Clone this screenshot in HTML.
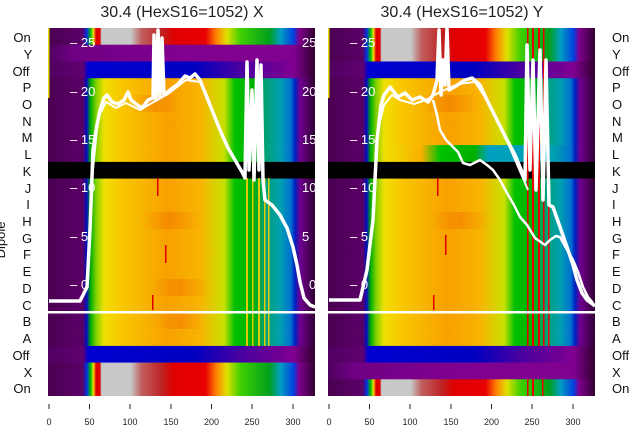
<!DOCTYPE html>
<html><head><meta charset="utf-8"><style>
html,body{margin:0;padding:0;background:#fff;}
svg{display:block;font-family:"Liberation Sans","DejaVu Sans",sans-serif;}
</style></head><body>
<svg width="640" height="440" viewBox="0 0 640 440" xmlns="http://www.w3.org/2000/svg">
<defs>
<linearGradient id="spec" x1="0" x2="1" y1="0" y2="0">
<stop offset="0" stop-color="#4a0050"/><stop offset="0.13" stop-color="#5a0068"/>
<stop offset="0.145" stop-color="#0010c0"/><stop offset="0.16" stop-color="#00b000"/>
<stop offset="0.18" stop-color="#80d000"/><stop offset="0.21" stop-color="#f0e000"/>
<stop offset="0.27" stop-color="#f8c800"/><stop offset="0.45" stop-color="#f8a000"/>
<stop offset="0.57" stop-color="#f8b400"/><stop offset="0.66" stop-color="#c8e000"/>
<stop offset="0.70" stop-color="#00c000"/><stop offset="0.77" stop-color="#00b000"/>
<stop offset="0.81" stop-color="#00a070"/><stop offset="0.87" stop-color="#00a0b0"/>
<stop offset="0.91" stop-color="#0070d0"/><stop offset="0.925" stop-color="#0020c0"/>
<stop offset="0.945" stop-color="#700090"/><stop offset="1" stop-color="#300030"/>
</linearGradient>
<linearGradient id="lrow" x1="0" x2="1" y1="0" y2="0">
<stop offset="0" stop-color="#4a0050"/><stop offset="0.13" stop-color="#5a0068"/>
<stop offset="0.145" stop-color="#0010c0"/><stop offset="0.16" stop-color="#00b000"/>
<stop offset="0.18" stop-color="#80d000"/><stop offset="0.21" stop-color="#f0e000"/>
<stop offset="0.35" stop-color="#f8b000"/><stop offset="0.42" stop-color="#00c000"/>
<stop offset="0.55" stop-color="#00b000"/><stop offset="0.6" stop-color="#00a0c0"/>
<stop offset="0.85" stop-color="#00a0b0"/>
<stop offset="0.91" stop-color="#0070d0"/><stop offset="0.925" stop-color="#0020c0"/>
<stop offset="0.945" stop-color="#700090"/><stop offset="1" stop-color="#300030"/>
</linearGradient>
<linearGradient id="on" x1="0" x2="1" y1="0" y2="0">
<stop offset="0" stop-color="#4a0050"/><stop offset="0.13" stop-color="#5a0068"/>
<stop offset="0.145" stop-color="#0030e0"/><stop offset="0.16" stop-color="#00c000"/>
<stop offset="0.17" stop-color="#f0e000"/><stop offset="0.18" stop-color="#e00000"/>
<stop offset="0.195" stop-color="#e00000"/><stop offset="0.2" stop-color="#c8c8c8"/>
<stop offset="0.31" stop-color="#c8c8c8"/><stop offset="0.35" stop-color="#c06060"/>
<stop offset="0.43" stop-color="#c02020"/><stop offset="0.47" stop-color="#e00000"/>
<stop offset="0.59" stop-color="#e80000"/><stop offset="0.63" stop-color="#ff8000"/>
<stop offset="0.67" stop-color="#e0e000"/><stop offset="0.72" stop-color="#40d000"/>
<stop offset="0.83" stop-color="#00a020"/><stop offset="0.87" stop-color="#00a0c0"/>
<stop offset="0.92" stop-color="#0040e0"/><stop offset="0.94" stop-color="#800090"/>
<stop offset="1" stop-color="#300030"/>
</linearGradient>
<linearGradient id="blue" x1="0" x2="1" y1="0" y2="0">
<stop offset="0" stop-color="#500060"/><stop offset="0.13" stop-color="#600070"/>
<stop offset="0.15" stop-color="#0000d0"/><stop offset="0.55" stop-color="#0000c0"/>
<stop offset="0.72" stop-color="#4800a0"/><stop offset="0.92" stop-color="#800090"/>
<stop offset="1" stop-color="#300030"/>
</linearGradient>
<linearGradient id="purp" x1="0" x2="1" y1="0" y2="0">
<stop offset="0" stop-color="#500060"/><stop offset="0.1" stop-color="#700085"/>
<stop offset="0.5" stop-color="#800090"/><stop offset="0.92" stop-color="#800090"/>
<stop offset="1" stop-color="#300030"/>
</linearGradient>
<linearGradient id="or" x1="0" x2="1" y1="0" y2="0">
<stop offset="0" stop-color="#f06000" stop-opacity="0"/><stop offset="0.5" stop-color="#f06000" stop-opacity="0.35"/><stop offset="1" stop-color="#f06000" stop-opacity="0"/>
</linearGradient>
</defs>

<text x="182" y="17" font-size="16" text-anchor="middle" fill="#222">30.4 (HexS16=1052) X</text>
<text x="462" y="17" font-size="16" text-anchor="middle" fill="#222">30.4 (HexS16=1052) Y</text>

<g>
<rect x="48" y="28" width="267" height="17" fill="url(#on)"/>
<rect x="48" y="44.7" width="267" height="17" fill="url(#purp)"/>
<rect x="48" y="61.5" width="267" height="17" fill="url(#blue)"/>
<rect x="48" y="78.2" width="267" height="17" fill="url(#spec)"/>
<rect x="48" y="95" width="267" height="17" fill="url(#spec)"/>
<rect x="48" y="111.7" width="267" height="17" fill="url(#spec)"/>
<rect x="48" y="128.4" width="267" height="17" fill="url(#spec)"/>
<rect x="48" y="145.1" width="267" height="17" fill="url(#spec)"/>
<rect x="48" y="161.9" width="267" height="17" fill="#000"/>
<rect x="48" y="178.6" width="267" height="17" fill="url(#spec)"/>
<rect x="48" y="195.3" width="267" height="17" fill="url(#spec)"/>
<rect x="48" y="212" width="267" height="17" fill="url(#spec)"/>
<rect x="48" y="228.8" width="267" height="17" fill="url(#spec)"/>
<rect x="48" y="245.5" width="267" height="17" fill="url(#spec)"/>
<rect x="48" y="262.2" width="267" height="17" fill="url(#spec)"/>
<rect x="48" y="279" width="267" height="17" fill="url(#spec)"/>
<rect x="48" y="295.7" width="267" height="17" fill="url(#spec)"/>
<rect x="48" y="312.4" width="267" height="17" fill="url(#spec)"/>
<rect x="48" y="329.1" width="267" height="17" fill="url(#spec)"/>
<rect x="48" y="345.9" width="267" height="17" fill="url(#blue)"/>
<rect x="48" y="362.6" width="267" height="17" fill="url(#on)"/>
<rect x="48" y="379.3" width="267" height="16.7" fill="url(#on)"/>
<g fill="url(#or)">
<rect x="150" y="279" width="60" height="17"/><rect x="130" y="95" width="50" height="17"/><rect x="140" y="212" width="60" height="17"/><rect x="155" y="312" width="50" height="17"/>
</g>
<g fill="#f8d000" opacity="0.9">
<rect x="246" y="178" width="2" height="168"/><rect x="252" y="178" width="1.5" height="168"/>
<rect x="258" y="178" width="2" height="168"/><rect x="264" y="178" width="1.5" height="168"/>
<rect x="268" y="178" width="1.5" height="168"/>
</g>
<g fill="#e00000"><rect x="157" y="178" width="1.5" height="18"/><rect x="152" y="295" width="1.5" height="15"/><rect x="165" y="245" width="1.5" height="18"/></g>
<rect x="48" y="28" width="1.5" height="70" fill="#e0e000"/>
</g>

<g transform="translate(280,0)">
<rect x="48" y="28" width="267" height="17" fill="url(#on)"/>
<rect x="48" y="44.7" width="267" height="17" fill="url(#on)"/>
<rect x="48" y="61.5" width="267" height="17" fill="url(#blue)"/>
<rect x="48" y="78.2" width="267" height="17" fill="url(#spec)"/>
<rect x="48" y="95" width="267" height="17" fill="url(#spec)"/>
<rect x="48" y="111.7" width="267" height="17" fill="url(#spec)"/>
<rect x="48" y="128.4" width="267" height="17" fill="url(#spec)"/>
<rect x="48" y="145.1" width="267" height="17" fill="url(#lrow)"/>
<rect x="48" y="161.9" width="267" height="17" fill="#000"/>
<rect x="48" y="178.6" width="267" height="17" fill="url(#spec)"/>
<rect x="48" y="195.3" width="267" height="17" fill="url(#spec)"/>
<rect x="48" y="212" width="267" height="17" fill="url(#spec)"/>
<rect x="48" y="228.8" width="267" height="17" fill="url(#spec)"/>
<rect x="48" y="245.5" width="267" height="17" fill="url(#spec)"/>
<rect x="48" y="262.2" width="267" height="17" fill="url(#spec)"/>
<rect x="48" y="279" width="267" height="17" fill="url(#spec)"/>
<rect x="48" y="295.7" width="267" height="17" fill="url(#spec)"/>
<rect x="48" y="312.4" width="267" height="17" fill="url(#spec)"/>
<rect x="48" y="329.1" width="267" height="17" fill="url(#spec)"/>
<rect x="48" y="345.9" width="267" height="17" fill="url(#blue)"/>
<rect x="48" y="362.6" width="267" height="17" fill="url(#purp)"/>
<rect x="48" y="379.3" width="267" height="16.7" fill="url(#on)"/>
<g fill="url(#or)">
<rect x="140" y="95" width="60" height="17"/><rect x="150" y="212" width="60" height="17"/>
</g>
<g fill="#e80000">
<rect x="247" y="28" width="1.5" height="318"/><rect x="252" y="28" width="2" height="318"/>
<rect x="258" y="28" width="2" height="318"/><rect x="263" y="28" width="1.5" height="318"/>
<rect x="268" y="178" width="1.5" height="168"/>
<rect x="247" y="379" width="1.5" height="17"/><rect x="252" y="379" width="2" height="17"/><rect x="262" y="379" width="1.5" height="17"/>
</g>
<g fill="#e00000"><rect x="157" y="178" width="1.5" height="18"/><rect x="153" y="295" width="1.5" height="15"/><rect x="165" y="235" width="1.5" height="20"/></g>
<rect x="48" y="28" width="1.5" height="70" fill="#e0e000"/>
</g>

<rect x="48" y="311" width="547" height="2.5" fill="#fff"/>

<g fill="#fff" font-size="13">
<text x="70" y="47">– 25</text><text x="70" y="96">– 20</text><text x="70" y="144">– 15</text>
<text x="70" y="192">– 10</text><text x="70" y="241">– 5</text><text x="70" y="289">– 0</text>
<text x="302" y="47">25</text><text x="302" y="96">20</text><text x="302" y="144">15</text>
<text x="302" y="192">10</text><text x="302" y="241">5</text><text x="309" y="289">0</text>
<text x="350" y="47">– 25</text><text x="350" y="96">– 20</text><text x="350" y="144">– 15</text>
<text x="350" y="192">– 10</text><text x="350" y="241">– 5</text><text x="350" y="289">– 0</text>
</g>

<g fill="none" stroke="#fff" stroke-width="3.5" stroke-linejoin="round">
<polyline points="49,301 80,301 87,287 90,230 93,150 97,125 100,110 104,98 107,95 112,102 118,104 124,100 128,92 131,100 136,104 142,108 148,100 153,98 154,35 156,100 158,30 160,97 162,38 164,95 170,90 178,84 185,76 190,78 195,74 200,80 210,105 220,130 228,148 235,160 242,172 245,178 247,62 249,170 252,90 254,180 257,60 259,170 261,65 263,180 265,200 272,205 280,215 287,228 293,247 297,265 300,282 304,298 310,305 315,307"/>
<polyline points="92,180 98,118 106,102 116,108 126,103 140,110 150,104 168,94 186,80 200,82 215,118 232,156 244,176" stroke-width="2"/>
</g>

<g fill="none" stroke="#fff" stroke-width="3.5" stroke-linejoin="round">
<polyline points="329,300 360,300 367,270 373,220 377,140 381,105 384,95 390,87 398,97 405,93 412,100 420,97 428,102 433,95 437,80 439,30 441,95 443,60 445,85 447,28 449,90 456,86 465,80 472,78 480,85 487,100 497,120 507,140 515,155 520,167 525,180 527,45 530,170 533,60 536,190 540,50 543,200 546,60 549,205 553,207 560,227 567,247 573,265 577,280 582,293 587,300 595,306"/>
<polyline points="433,100 437,115 440,130 446,140 453,147 458,152 463,163 470,165 480,160 487,165 493,170 500,180 507,193 514,205 520,217 527,225 535,238 545,245 550,240 556,236 560,237 566,248 573,260 578,272 583,287 588,297 593,303" stroke-width="2.5"/>
<polyline points="378,130 384,105 392,95 400,100 414,104 426,100 440,92 458,84 475,82 490,105 510,148 528,190" stroke-width="2"/>
</g>

<g font-size="13" fill="#111" text-anchor="middle">
<text x="22" y="42">On</text><text x="28" y="59">Y</text><text x="21" y="76">Off</text>
<text x="27" y="92">P</text><text x="27" y="109">O</text><text x="27" y="126">N</text>
<text x="27" y="142">M</text><text x="28" y="159">L</text><text x="27" y="176">K</text>
<text x="28" y="193">J</text><text x="28" y="209">I</text><text x="27" y="226">H</text>
<text x="27" y="243">G</text><text x="27" y="259">F</text><text x="27" y="276">E</text>
<text x="27" y="293">D</text><text x="27" y="310">C</text><text x="27" y="326">B</text>
<text x="27" y="343">A</text><text x="21" y="360">Off</text><text x="28" y="377">X</text>
<text x="22" y="393">On</text>
</g>
<g font-size="13" fill="#111">
<text x="612" y="42">On</text><text x="612" y="59">Y</text><text x="612" y="76">Off</text>
<text x="612" y="92">P</text><text x="612" y="109">O</text><text x="612" y="126">N</text>
<text x="612" y="142">M</text><text x="612" y="159">L</text><text x="612" y="176">K</text>
<text x="612" y="193">J</text><text x="612" y="209">I</text><text x="612" y="226">H</text>
<text x="612" y="243">G</text><text x="612" y="259">F</text><text x="612" y="276">E</text>
<text x="612" y="293">D</text><text x="612" y="310">C</text><text x="612" y="326">B</text>
<text x="612" y="343">A</text><text x="612" y="360">Off</text><text x="612" y="377">X</text>
<text x="612" y="393">On</text>
</g>
<text x="0" y="0" font-size="13" fill="#111" transform="translate(5,240) rotate(-90)" text-anchor="middle">Dipole</text>

<g stroke="#222" stroke-width="1">
<line x1="49" y1="404" x2="49" y2="409"/><line x1="89.5" y1="404" x2="89.5" y2="409"/><line x1="130" y1="404" x2="130" y2="409"/>
<line x1="171" y1="404" x2="171" y2="409"/><line x1="211.5" y1="404" x2="211.5" y2="409"/><line x1="252" y1="404" x2="252" y2="409"/><line x1="293" y1="404" x2="293" y2="409"/>
<line x1="329" y1="404" x2="329" y2="409"/><line x1="369.5" y1="404" x2="369.5" y2="409"/><line x1="410" y1="404" x2="410" y2="409"/>
<line x1="451" y1="404" x2="451" y2="409"/><line x1="491.5" y1="404" x2="491.5" y2="409"/><line x1="532" y1="404" x2="532" y2="409"/><line x1="573" y1="404" x2="573" y2="409"/>
</g>
<g font-size="9" fill="#222" text-anchor="middle">
<text x="49" y="425">0</text><text x="89.5" y="425">50</text><text x="130" y="425">100</text><text x="171" y="425">150</text>
<text x="211.5" y="425">200</text><text x="252" y="425">250</text><text x="293" y="425">300</text>
<text x="329" y="425">0</text><text x="369.5" y="425">50</text><text x="410" y="425">100</text><text x="451" y="425">150</text>
<text x="491.5" y="425">200</text><text x="532" y="425">250</text><text x="573" y="425">300</text>
</g>
</svg>
</body></html>
